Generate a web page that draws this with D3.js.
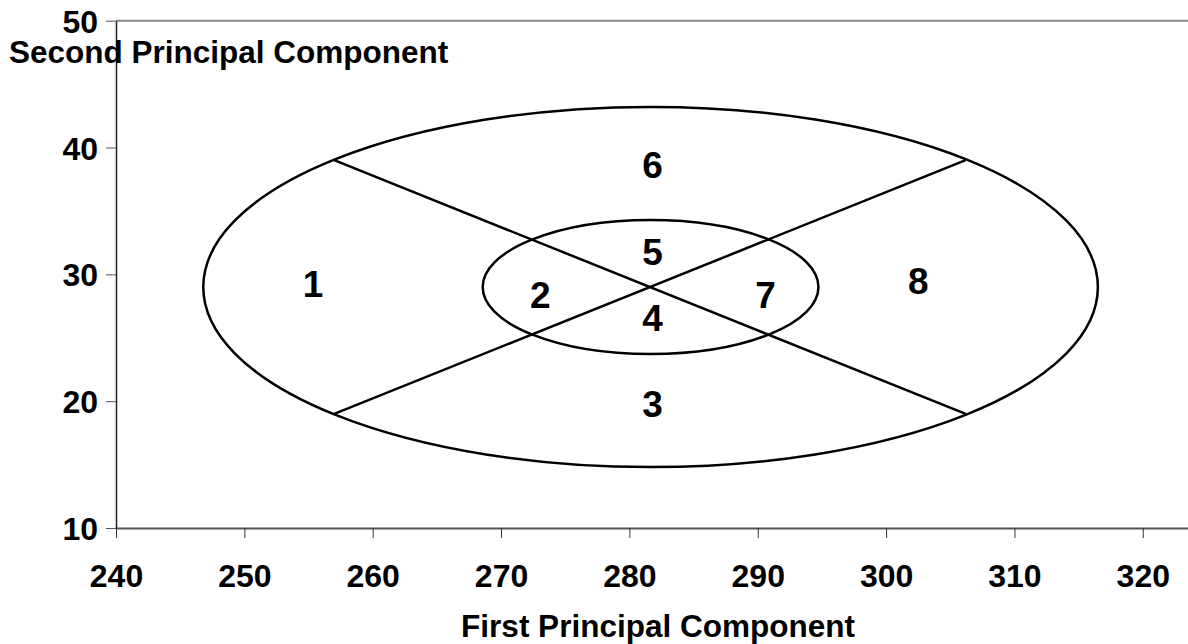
<!DOCTYPE html>
<html>
<head>
<meta charset="utf-8">
<script src="https://cdn.jsdelivr.net/npm/d3@7"></script>
<style>
  body { margin: 0; background: #fff; }
  svg text { font-family: "Liberation Sans", Arial, sans-serif; font-weight: bold; fill: #000; }
</style>
</head>
<body>
<svg id="chart" width="1188" height="644"></svg>
<script>
// tick values
var xTicks = [240, 250, 260, 270, 280, 290, 300, 310, 320];
var yTicks = [10, 20, 30, 40, 50];

// ellipses: centre and half-axes, in data units
var ellipses = [
  {cx: 281.65, cy: 29.0, rx: 34.85, ry: 14.2},
  {cx: 281.65, cy: 29.0, rx: 13.08, ry: 5.28}
];

// the two diagonals through the centre
var diagonals = [
  [[257.0, 39.0], [306.2, 19.0]],
  [[257.0, 19.0], [306.2, 39.0]]
];

// region numbers
var regions = [
  {id: "1", x: 255.35, y: 29.3},
  {id: "2", x: 273.05, y: 28.37},
  {id: "3", x: 281.8, y: 19.83},
  {id: "4", x: 281.8, y: 26.61},
  {id: "5", x: 281.8, y: 31.78},
  {id: "6", x: 281.8, y: 38.68},
  {id: "7", x: 290.6, y: 28.37},
  {id: "8", x: 302.5, y: 29.5}
];

var svg = d3.select("#chart");

var x = d3.scaleLinear().domain([240, 323.6]).range([116, 1189]);
var y = d3.scaleLinear().domain([10, 50]).range([528, 20.7]);

// top border of the plot area
svg.append("line")
  .attr("x1", x(240)).attr("x2", 1188)
  .attr("y1", y(50)).attr("y2", y(50))
  .attr("stroke", "#888").attr("stroke-width", 2);

// x axis
var xAxis = svg.append("g")
  .attr("transform", "translate(0," + y(10) + ")")
  .call(d3.axisBottom(x).tickValues(xTicks).tickSize(10).tickSizeOuter(0).tickPadding(26));
xAxis.select(".domain").attr("stroke", "#555").attr("stroke-width", 2);
xAxis.selectAll(".tick line").attr("stroke", "#333").attr("stroke-width", 1);
xAxis.selectAll("text").style("font-size", "32px").attr("fill", "#000");

// y axis
var yAxis = svg.append("g")
  .attr("transform", "translate(" + x(240) + ",0)")
  .call(d3.axisLeft(y).tickValues(yTicks).tickSize(10).tickSizeOuter(0).tickPadding(8));
yAxis.select(".domain").attr("stroke", "#222").attr("stroke-width", 1.5);
yAxis.selectAll(".tick line").attr("stroke", "#555").attr("stroke-width", 1);
yAxis.selectAll("text").style("font-size", "32px").attr("fill", "#000").attr("dy", "0.36em");

// ellipses
svg.selectAll(".ell")
  .data(ellipses)
  .enter().append("ellipse")
  .attr("class", "ell")
  .attr("cx", function(d) { return x(d.cx); })
  .attr("cy", function(d) { return y(d.cy); })
  .attr("rx", function(d) { return x(d.cx + d.rx) - x(d.cx); })
  .attr("ry", function(d) { return y(d.cy - d.ry) - y(d.cy); })
  .attr("fill", "none")
  .attr("stroke", "#000")
  .attr("stroke-width", 2.5);

// diagonals
var line = d3.line().x(function(d) { return x(d[0]); }).y(function(d) { return y(d[1]); });
svg.selectAll(".diag")
  .data(diagonals)
  .enter().append("path")
  .attr("class", "diag")
  .attr("d", line)
  .attr("fill", "none")
  .attr("stroke", "#000")
  .attr("stroke-width", 2.5);

// region labels
svg.selectAll(".region")
  .data(regions)
  .enter().append("text")
  .attr("class", "region")
  .attr("x", function(d) { return x(d.x); })
  .attr("y", function(d) { return y(d.y); })
  .attr("dy", "0.36em")
  .attr("text-anchor", "middle")
  .style("font-size", "37px")
  .text(function(d) { return d.id; });

// axis titles
svg.append("text")
  .attr("x", 658).attr("y", 637)
  .attr("text-anchor", "middle")
  .style("font-size", "31.5px")
  .text("First Principal Component");

svg.append("text")
  .attr("x", 9).attr("y", 63)
  .style("font-size", "31.5px")
  .text("Second Principal Component");
</script>
</body>
</html>
